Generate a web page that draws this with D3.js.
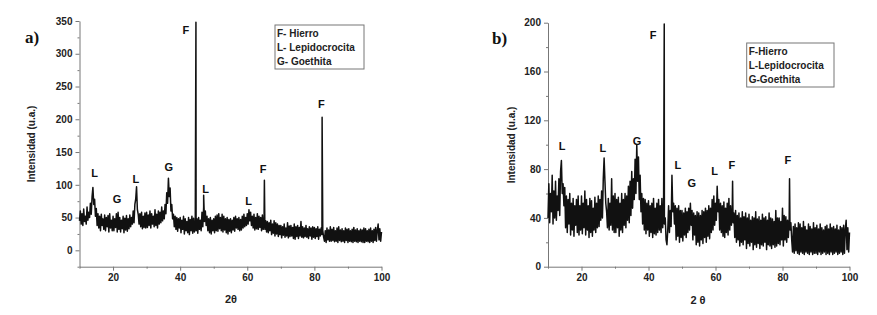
<!DOCTYPE html>
<html>
<head>
<meta charset="utf-8">
<script src="https://cdn.jsdelivr.net/npm/d3@7"></script>
<style>
  body { margin: 0; background: #fff; }
  svg { font-family: "Liberation Sans", Arial, sans-serif; }
  .tick text { font-weight: bold; font-size: 10px; fill: #222; }
  .axis path, .axis line { stroke: #777; }
</style>
</head>
<body>
<svg id="chart" width="877" height="315"></svg>
<script>
// 2-theta sampled every 0.25 deg from 10 to 100 (one row = 5 deg)
var thetaStart = 10, thetaStep = 0.25;

// panel a) intensity readings (u.a.)
var traceA = [
  45, 60, 40, 56, 38, 63, 44, 52, 40, 66, 46, 58, 50, 72, 55, 82, 96, 70, 78, 52,
  64, 38, 56, 34, 52, 30, 55, 38, 48, 32, 54, 30, 50, 36, 53, 28, 56, 34, 46, 30,
  52, 30, 48, 35, 56, 28, 58, 32, 50, 28, 46, 33, 52, 27, 49, 31, 53, 29, 48, 33,
  54, 36, 50, 40, 60, 42, 70, 78, 97, 62, 55, 40, 56, 36, 58, 33, 52, 35, 57, 34,
  58, 35, 54, 38, 60, 34, 56, 40, 52, 36, 62, 38, 55, 34, 60, 40, 58, 42, 66, 45,
  60, 48, 70, 56, 88, 72, 110, 82, 95, 60, 70, 48, 55, 36, 52, 32, 50, 29, 48, 34,
  50, 27, 46, 32, 52, 25, 48, 30, 44, 27, 50, 24, 47, 30, 52, 26, 49, 28, 46, 30,
  48, 26, 50, 32, 46, 30, 58, 36, 66, 44, 60, 38, 52, 30, 48, 27, 50, 25, 46, 30,
  48, 27, 52, 30, 54, 29, 56, 33, 50, 30, 55, 28, 52, 31, 48, 27, 50, 25, 47, 29,
  48, 27, 46, 31, 50, 29, 52, 34, 48, 32, 50, 30, 47, 31, 52, 34, 55, 36, 50, 38,
  56, 40, 62, 45, 58, 38, 52, 34, 55, 31, 50, 33, 56, 32, 52, 35, 50, 30, 54, 32,
  48, 32, 45, 28, 44, 27, 42, 30, 46, 24, 40, 26, 45, 22, 42, 25, 40, 21, 38, 24,
  38, 19, 36, 23, 40, 20, 34, 22, 42, 19, 37, 21, 38, 22, 35, 18, 40, 17, 36, 21,
  38, 18, 35, 22, 44, 20, 36, 19, 34, 21, 38, 20, 33, 18, 36, 22, 34, 17, 36, 20,
  35, 18, 33, 21, 36, 17, 32, 22, 34, 24, 30, 20, 14, 30, 12, 34, 16, 31, 14, 36,
  14, 32, 15, 35, 13, 30, 14, 34, 12, 36, 15, 31, 13, 33, 14, 30, 12, 34, 15, 32,
  12, 33, 14, 30, 13, 32, 12, 35, 14, 31, 13, 33, 12, 30, 14, 32, 13, 31, 12, 34,
  12, 33, 14, 30, 13, 32, 12, 34, 14, 30, 12, 32, 15, 35, 14, 31, 40, 16, 33, 14,
  28
];
// sharp peaks: [2theta, intensity]
var peaksA = [[44.7, 348], [47.0, 84], [65.1, 107], [82.3, 203]];
var markTextA = ["F", "F", "L", "G", "L", "G", "L", "L", "F"];
var markXA = [41.7, 82.1, 14.5, 21.2, 26.8, 36.6, 47.6, 60.4, 64.7];
var markYA = [330, 217, 112, 72, 103, 121, 87, 69, 117.6];
var legendA = ["F- Hierro", "L- Lepidocrocita", "G- Goethita"];
var yTicksA = [0, 50, 100, 150, 200, 250, 300, 350];
var yMinorA = [-25, 25, 75, 125, 175, 225, 275, 325];

// panel b) intensity readings (u.a.)
var traceB = [
  40, 68, 36, 60, 45, 75, 35, 62, 40, 70, 38, 58, 46, 72, 42, 78, 87, 60, 68, 50,
  65, 32, 58, 28, 55, 35, 60, 26, 52, 30, 56, 25, 50, 34, 55, 28, 58, 26, 50, 30,
  58, 27, 52, 32, 62, 26, 55, 30, 50, 24, 56, 28, 54, 25, 48, 30, 57, 28, 52, 32,
  58, 33, 55, 38, 62, 40, 72, 89, 70, 52, 45, 32, 56, 30, 52, 34, 72, 30, 58, 28,
  60, 28, 55, 32, 57, 25, 52, 30, 60, 28, 55, 34, 60, 32, 58, 38, 66, 36, 70, 42,
  78, 48, 72, 55, 88, 60, 100, 70, 90, 55, 75, 45, 60, 35, 56, 30, 55, 27, 52, 30,
  54, 25, 50, 28, 52, 24, 56, 27, 48, 26, 52, 28, 55, 30, 50, 28, 56, 32, 50, 35,
  40, 22, 18, 30, 50, 28, 46, 33, 75, 45, 52, 35, 50, 22, 48, 25, 50, 20, 46, 24,
  46, 21, 44, 26, 48, 24, 45, 28, 48, 30, 52, 34, 46, 22, 44, 26, 42, 18, 45, 20,
  44, 17, 42, 22, 46, 19, 45, 24, 48, 20, 46, 25, 50, 23, 48, 28, 55, 30, 58, 34,
  52, 38, 66, 45, 55, 30, 52, 28, 50, 25, 53, 24, 48, 28, 52, 26, 56, 30, 50, 34,
  48, 36, 44, 24, 46, 20, 42, 22, 44, 17, 40, 20, 45, 18, 41, 22, 44, 15, 40, 19,
  43, 17, 38, 20, 41, 14, 40, 18, 45, 16, 39, 19, 41, 15, 38, 18, 43, 17, 40, 20,
  41, 14, 38, 18, 44, 17, 40, 15, 39, 18, 37, 16, 46, 17, 40, 19, 40, 18, 37, 22,
  48, 17, 42, 22, 41, 20, 38, 24, 40, 30, 36, 22, 12, 33, 11, 35, 13, 32, 11, 36,
  10, 35, 12, 32, 11, 37, 10, 33, 12, 30, 11, 35, 10, 33, 12, 31, 10, 36, 11, 32,
  11, 34, 10, 31, 12, 35, 10, 32, 11, 30, 12, 33, 10, 34, 11, 31, 10, 35, 12, 32,
  10, 33, 11, 31, 12, 34, 10, 30, 11, 33, 12, 32, 10, 34, 11, 31, 38, 14, 32, 12,
  28
];
var peaksB = [[44.7, 199], [65.1, 70], [82.1, 72]];
var markTextB = ["F", "L", "L", "G", "L", "G", "L", "F", "F"];
var markXB = [41.4, 14.2, 26.4, 36.6, 48.8, 52.9, 59.7, 64.9, 81.6];
var markYB = [187, 95.8, 94, 100, 79.7, 65, 75, 80, 84];
var legendB = ["F-Hierro", "L-Lepidocrocita", "G-Goethita"];
var yTicksB = [0, 40, 80, 120, 160, 200];
var yMinorB = [20, 60, 100, 140, 180];

var xTicks = [20, 40, 60, 80, 100];
var xMinor = [10, 30, 50, 70, 90];

var svg = d3.select("#chart");

function drawPanel(p) {
  var x = d3.scaleLinear().domain([10, 100]).range(p.xr);
  var y = d3.scaleLinear().domain(p.yd).range(p.yr);
  var g = svg.append("g");

  // minor ticks
  g.append("g").attr("class", "axis")
    .attr("transform", "translate(0," + p.yr[0] + ")")
    .call(d3.axisBottom(x).tickValues(xMinor).tickSize(2).tickFormat(""))
    .select(".domain").remove();
  g.append("g").attr("class", "axis")
    .attr("transform", "translate(" + p.xr[0] + ",0)")
    .call(d3.axisLeft(y).tickValues(p.yMinor).tickSize(2).tickFormat(""))
    .select(".domain").remove();

  g.append("g").attr("class", "axis")
    .attr("transform", "translate(0," + p.yr[0] + ")")
    .call(d3.axisBottom(x).tickValues(xTicks).tickSize(4).tickSizeOuter(0).tickPadding(3));
  g.append("g").attr("class", "axis")
    .attr("transform", "translate(" + p.xr[0] + ",0)")
    .call(d3.axisLeft(y).tickValues(p.yTicks).tickSize(4).tickSizeOuter(0).tickPadding(3));

  // trace with sharp peaks merged in
  var pts = p.trace.map(function (v, i) { return [thetaStart + i * thetaStep, v]; });
  p.peaks.forEach(function (pk) { pts.push(pk); });
  pts.sort(function (a, b) { return a[0] - b[0]; });

  g.append("path")
    .datum(pts)
    .attr("fill", "none")
    .attr("stroke", "#111")
    .attr("stroke-width", 1.5)
    .attr("stroke-linejoin", "round")
    .attr("d", d3.line().x(function (d) { return x(d[0]); }).y(function (d) { return y(d[1]); }));

  // phase letters
  g.selectAll(".mark").data(p.markText).enter().append("text")
    .attr("x", function (d, i) { return x(p.markX[i]); })
    .attr("y", function (d, i) { return y(p.markY[i]); })
    .attr("text-anchor", "middle")
    .attr("font-size", "11px").attr("font-weight", "bold").attr("fill", "#111")
    .text(function (d) { return d; });

  // axis titles
  g.append("text")
    .attr("x", p.xTitle[0]).attr("y", p.xTitle[1])
    .attr("text-anchor", "middle")
    .attr("font-size", "11px").attr("font-weight", "bold").attr("fill", "#222")
    .text(p.xLabel);
  g.append("text")
    .attr("transform", "translate(" + p.yTitle[0] + "," + p.yTitle[1] + ") rotate(-90)")
    .attr("text-anchor", "middle")
    .attr("font-size", "10px").attr("font-weight", "bold").attr("fill", "#222")
    .text("Intensidad (u.a.)");

  // panel tag
  g.append("text")
    .attr("x", p.tag[0]).attr("y", p.tag[1])
    .attr("font-family", "'Liberation Serif', 'Times New Roman', serif")
    .attr("font-size", "17px").attr("font-weight", "bold").attr("fill", "#111")
    .text(p.tagText);

  // legend
  g.append("rect")
    .attr("x", p.leg[0]).attr("y", p.leg[1])
    .attr("width", p.leg[2]).attr("height", p.leg[3])
    .attr("fill", "#fff").attr("stroke", "#777").attr("stroke-width", 1);
  g.selectAll(".leg").data(p.legend).enter().append("text")
    .attr("x", p.leg[0] + 2)
    .attr("y", function (d, i) { return p.leg[1] + 12 + i * 14; })
    .attr("font-size", "10px").attr("font-weight", "bold").attr("fill", "#222")
    .text(function (d) { return d; });
}

drawPanel({
  xr: [79.5, 381.5], yd: [-25, 350], yr: [266.7, 21],
  trace: traceA, peaks: peaksA,
  markText: markTextA, markX: markXA, markY: markYA,
  yTicks: yTicksA, yMinor: yMinorA,
  xLabel: "2\u03B8", xTitle: [231, 303], yTitle: [35, 144],
  tag: [25, 43], tagText: "a)",
  leg: [275, 25, 89, 44], legend: legendA
});

drawPanel({
  xr: [548, 849.5], yd: [0, 200], yr: [266.7, 22.7],
  trace: traceB, peaks: peaksB,
  markText: markTextB, markX: markXB, markY: markYB,
  yTicks: yTicksB, yMinor: yMinorB,
  xLabel: "2 \u03B8", xTitle: [698, 304], yTitle: [515, 145],
  tag: [492, 44], tagText: "b)",
  leg: [746.7, 43, 87.3, 44], legend: legendB
});
</script>
</body>
</html>
